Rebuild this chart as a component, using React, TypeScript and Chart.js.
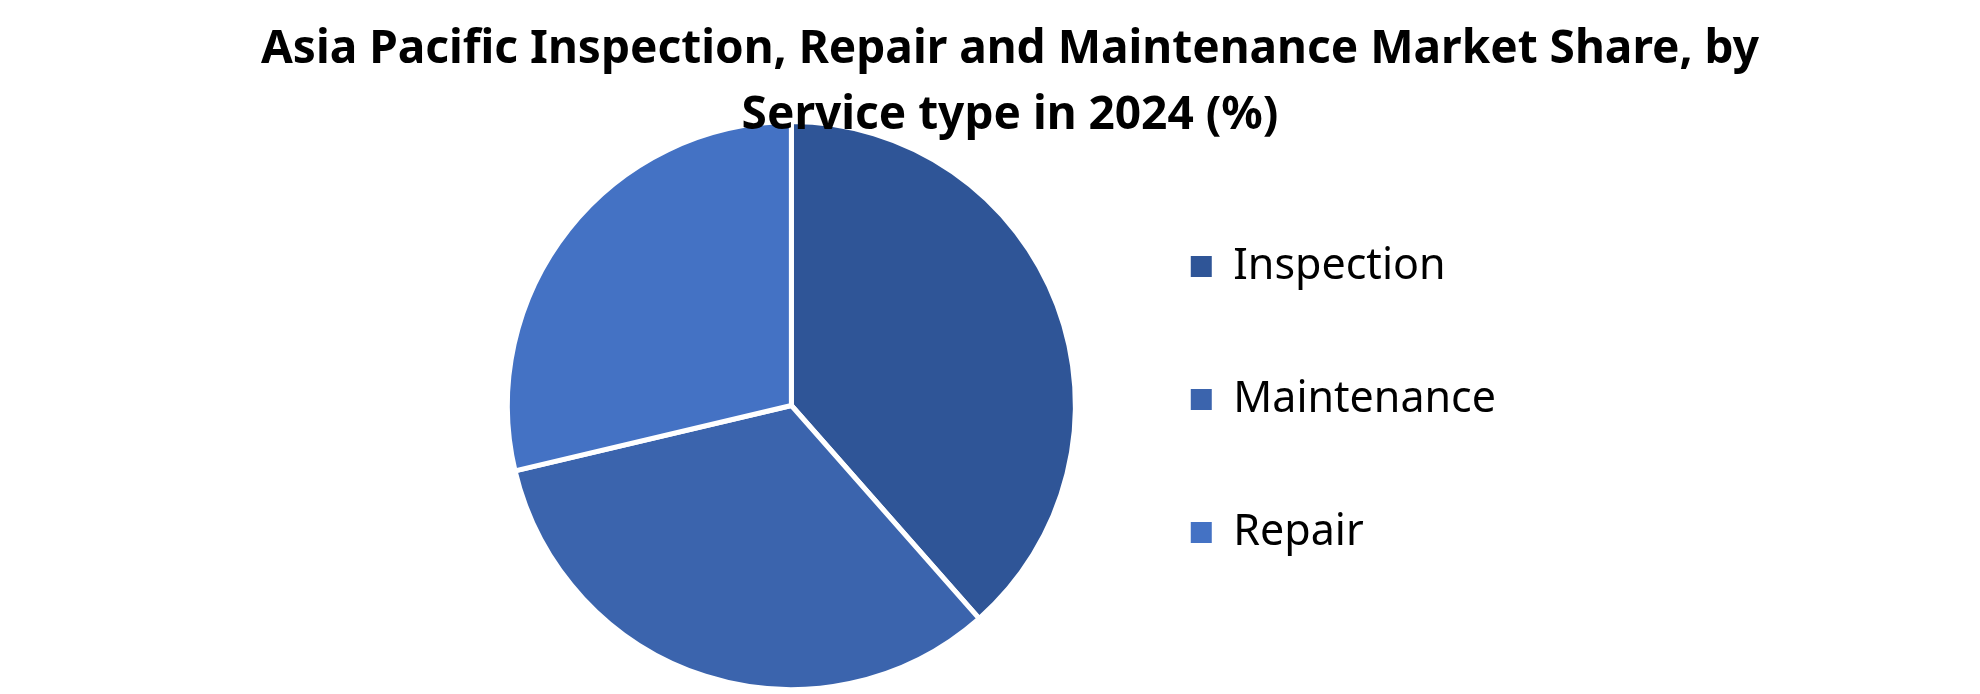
import { useEffect, useRef } from 'react';
import { Chart, registerables } from 'chart.js';
import type { Plugin } from 'chart.js';

Chart.register(...registerables);

// Market share by service type, 2024 (%)
const serviceTypes = ['Inspection', 'Maintenance', 'Repair'];
const shareValues = [38.5, 32.8, 28.7];
const sliceColors = ['#2F5597', '#3B64AD', '#4472C4'];
const titleLines = [
    'Asia Pacific Inspection, Repair and Maintenance Market Share, by',
    'Service type in 2024 (%)',
];

// The title in the reference sits a little right of the canvas centre, spans
// wider than the pie+legend block and is painted over the top of the pie
const titleSpan: Plugin<'pie'> = {
    id: 'titleSpan',
    beforeLayout(chart) {
        const t = (chart as any).titleBlock;
        if (!t) return;
        t._layers = () => [{ z: 1, draw: (area: any) => t.draw(area) }];
    },
    afterLayout(chart) {
        const t = (chart as any).titleBlock;
        if (!t) return;
        t.left = 40;
        t.right = chart.width;
        t.width = t.right - t.left;
    },
};

const App = () => {
    const chartRef = useRef<HTMLCanvasElement | null>(null);

    useEffect(() => {
        const ctx = chartRef.current?.getContext('2d');
        if (!ctx) return;

        const chartInstance = new Chart(ctx, {
            type: 'pie',
            data: {
                labels: serviceTypes,
                datasets: [
                    {
                        data: shareValues,
                        backgroundColor: sliceColors,
                        borderColor: '#ffffff',
                        borderWidth: 5,
                    },
                ],
            },
            options: {
                animation: false,
                responsive: true,
                maintainAspectRatio: false,
                layout: {
                    padding: { left: 482, right: 474, top: 107, bottom: 2 },
                },
                plugins: {
                    title: {
                        display: true,
                        text: titleLines,
                        color: '#000000',
                        font: { family: 'Noto Sans', size: 46, weight: 'bold', lineHeight: 1.4348 },
                        padding: { top: -90, bottom: -30 },
                    },
                    legend: {
                        position: 'right',
                        labels: {
                            color: '#000000',
                            font: { family: 'Noto Sans', size: 43 },
                            boxWidth: 21,
                            boxHeight: 21,
                            padding: 90,
                            // plain squares, without the slices' white border
                            generateLabels: (chart) =>
                                Chart.overrides.pie.plugins.legend.labels
                                    .generateLabels(chart)
                                    .map((item) => ({ ...item, lineWidth: 0 })),
                        },
                    },
                    tooltip: { enabled: false },
                },
            },
            plugins: [titleSpan],
        });

        return () => {
            chartInstance.destroy();
        };
    }, []);

    return (
        <div style={{ position: 'fixed', left: 0, top: 0, width: 1980, height: 694, background: '#fff' }}>
            <canvas ref={chartRef}></canvas>
        </div>
    );
};

export default App;
